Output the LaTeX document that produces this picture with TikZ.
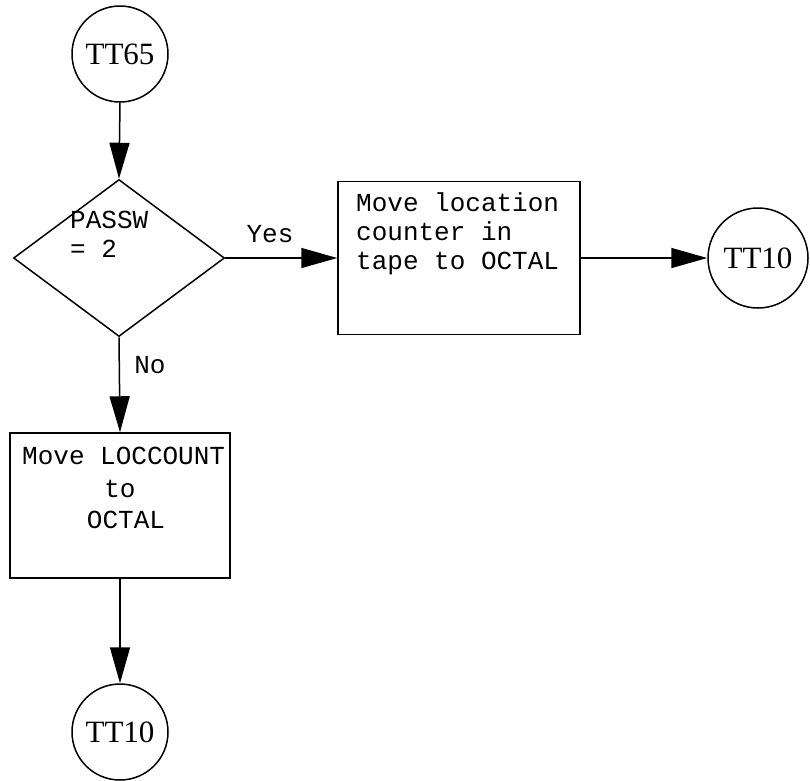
\documentclass[tikz,border=0pt]{standalone}
\usepackage{fontspec}
\setmonofont{Liberation Mono}
\newfontfamily\circfont{Liberation Serif}
\newcommand\termfont{\circfont\fontsize{31}{34}\selectfont}
\newcommand\boxfont{\ttfamily\fontsize{26}{29}\selectfont}
\usetikzlibrary{shapes.geometric,arrows.meta}
\begin{document}
\begin{tikzpicture}[x=1pt,y=-1pt,
  every node/.style={inner sep=0pt},
  conn/.style={line width=1.5pt,-{Triangle[length=36pt,width=20pt]}},
  term/.style={circle,draw,line width=1.5pt,minimum size=96pt,font=\termfont},
  decis/.style={diamond,draw,line width=1.5pt,minimum width=211pt,minimum height=157pt},
  proc/.style={rectangle,draw,line width=1.5pt},
  txt/.style={font=\boxfont}
]
\useasboundingbox (0,0) rectangle (810,780);
\node[term] (c1) at (120,54) {\termfont TT65};
\node[decis] (d) at (119,258) {};
\node[txt,anchor=west,align=left] (dtext) at (70,234) {\boxfont PASSW\\\boxfont = 2};
\node[proc,minimum width=242pt,minimum height=153pt] (b1) at (459,258) {};
\node[txt,anchor=north west,align=left] (b1text) at (356,192) {\boxfont Move location\\\boxfont counter in\\\boxfont tape to OCTAL};
\node[term,minimum size=100pt] (c2) at (758,258) {\termfont TT10};
\node[proc,minimum width=220pt,minimum height=145pt] (b2) at (120,505.5) {};
\node[txt,anchor=west] (b2l1) at (22,456) {\boxfont Move LOCCOUNT};
\node[txt] (b2l2) at (120,489) {\boxfont to};
\node[txt] (b2l3) at (126,520) {\boxfont OCTAL};
\node[term] (c3) at (120,732) {\termfont TT10};
\node[txt] (yes) at (270,234) {\boxfont Yes};
\node[txt] (no) at (150,365) {\boxfont No};
\draw[conn] (c1.south) -- (d.north);
\draw[conn] (d.east) -- (b1.west);
\draw[conn] (b1.east) -- (c2.west);
\draw[conn] (d.south) -- (b2.north);
\draw[conn] (b2.south) -- (c3.north);
\end{tikzpicture}
\end{document}
